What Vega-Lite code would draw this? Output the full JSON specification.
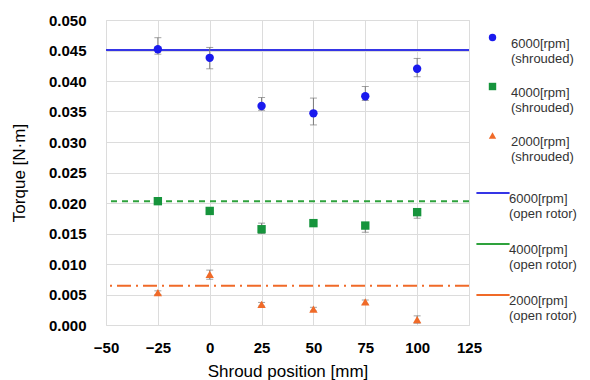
{
  "$schema": "https://vega.github.io/schema/vega-lite/v6.json",
  "width": 363,
  "height": 305,
  "autosize": "none",
  "padding": {"left": 106, "top": 20, "right": 121, "bottom": 55},
  "background": "white",
  "config": {
    "font": "Liberation Sans",
    "view": {"stroke": "#d9d9d9"},
    "axis": {"domain": false, "ticks": false, "gridColor": "#dcdcdc", "labelColor": "#000", "titleColor": "#000", "labelFontSize": 15, "labelFontWeight": "bold", "titleFontSize": 17, "titleFontWeight": "normal", "labelOverlap": false, "labelFlush": false},
    "legend": {"labelFont": "Liberation Sans", "labelFontSize": 13, "labelColor": "#333", "title": null}
  },
  "datasets": {
    "shrouded": [
      {"x": -25, "y": 0.0452, "lo": 0.0444, "hi": 0.0471, "series": "6000[rpm]|(shrouded)"},
      {"x": 0, "y": 0.0438, "lo": 0.0420, "hi": 0.0455, "series": "6000[rpm]|(shrouded)"},
      {"x": 25, "y": 0.0359, "lo": 0.0352, "hi": 0.0373, "series": "6000[rpm]|(shrouded)"},
      {"x": 50, "y": 0.0347, "lo": 0.0328, "hi": 0.0372, "series": "6000[rpm]|(shrouded)"},
      {"x": 75, "y": 0.0375, "lo": 0.0368, "hi": 0.0391, "series": "6000[rpm]|(shrouded)"},
      {"x": 100, "y": 0.0420, "lo": 0.0407, "hi": 0.0437, "series": "6000[rpm]|(shrouded)"},
      {"x": -25, "y": 0.0203, "lo": 0.0199, "hi": 0.0207, "series": "4000[rpm]|(shrouded)"},
      {"x": 0, "y": 0.0187, "lo": 0.0184, "hi": 0.0190, "series": "4000[rpm]|(shrouded)"},
      {"x": 25, "y": 0.0157, "lo": 0.0150, "hi": 0.0167, "series": "4000[rpm]|(shrouded)"},
      {"x": 50, "y": 0.0167, "lo": 0.0162, "hi": 0.0172, "series": "4000[rpm]|(shrouded)"},
      {"x": 75, "y": 0.0163, "lo": 0.0152, "hi": 0.0168, "series": "4000[rpm]|(shrouded)"},
      {"x": 100, "y": 0.0185, "lo": 0.0175, "hi": 0.0190, "series": "4000[rpm]|(shrouded)"},
      {"x": -25, "y": 0.0053, "lo": 0.0050, "hi": 0.0056, "series": "2000[rpm]|(shrouded)"},
      {"x": 0, "y": 0.0083, "lo": 0.0075, "hi": 0.0090, "series": "2000[rpm]|(shrouded)"},
      {"x": 25, "y": 0.0034, "lo": 0.0031, "hi": 0.0037, "series": "2000[rpm]|(shrouded)"},
      {"x": 50, "y": 0.0026, "lo": 0.0023, "hi": 0.0029, "series": "2000[rpm]|(shrouded)"},
      {"x": 75, "y": 0.0038, "lo": 0.0034, "hi": 0.0041, "series": "2000[rpm]|(shrouded)"},
      {"x": 100, "y": 0.0009, "lo": 0.0003, "hi": 0.0015, "series": "2000[rpm]|(shrouded)"}
    ],
    "open": [
      {"y": 0.0451, "series": "6000[rpm]|(open rotor)"},
      {"y": 0.0203, "series": "4000[rpm]|(open rotor)"},
      {"y": 0.00645, "series": "2000[rpm]|(open rotor)"}
    ]
  },
  "layer": [
    {
      "data": {"name": "open"},
      "mark": {"type": "rule", "strokeWidth": 2},
      "encoding": {
        "y": {"field": "y", "type": "quantitative", "scale": {"domain": [0, 0.05], "nice": false}, "axis": {"title": "Torque [N·m]", "values": [0, 0.005, 0.01, 0.015, 0.02, 0.025, 0.03, 0.035, 0.04, 0.045, 0.05], "format": ".3f", "labelPadding": 20, "titlePadding": 20}},
        "stroke": {"field": "series", "type": "nominal", "scale": {"domain": ["6000[rpm]|(open rotor)", "4000[rpm]|(open rotor)", "2000[rpm]|(open rotor)"], "range": ["#3535e6", "#2ea23c", "#f06a28"]},
          "legend": {"orient": "none", "legendX": 369, "legendY": 155, "symbolType": "stroke", "symbolSize": 1100, "symbolStrokeWidth": 2, "labelOffset": -2, "rowPadding": 5, "labelExpr": "split(datum.label, '|')", "labelBaseline": "top", "labelLimit": 200}},
        "strokeDash": {"field": "series", "type": "nominal", "scale": {"domain": ["6000[rpm]|(open rotor)", "4000[rpm]|(open rotor)", "2000[rpm]|(open rotor)"], "range": [[1, 0], [6, 5], [14, 5, 2, 5]]},
          "legend": null}
      }
    },
    {
      "data": {"name": "shrouded"},
      "mark": {"type": "errorbar", "ticks": {"size": 7, "color": "#7a7a7a"}, "rule": {"color": "#7a7a7a"}},
      "encoding": {
        "x": {"field": "x", "type": "quantitative"},
        "y": {"field": "lo", "type": "quantitative", "title": "Torque [N·m]", "axis": {"title": "Torque [N·m]", "values": [0, 0.005, 0.01, 0.015, 0.02, 0.025, 0.03, 0.035, 0.04, 0.045, 0.05], "format": ".3f", "labelPadding": 20, "titlePadding": 20}},
        "y2": {"field": "hi"}
      }
    },
    {
      "data": {"name": "shrouded"},
      "mark": {"type": "point", "filled": true, "opacity": 1, "size": 70, "strokeWidth": 0.8},
      "encoding": {
        "x": {"field": "x", "type": "quantitative", "scale": {"domain": [-50, 125], "nice": false}, "axis": {"title": "Shroud position [mm]", "values": [-50, -25, 0, 25, 50, 75, 100, 125], "labelPadding": 15, "titlePadding": 8}},
        "y": {"field": "y", "type": "quantitative", "title": "Torque [N·m]", "axis": {"title": "Torque [N·m]", "values": [0, 0.005, 0.01, 0.015, 0.02, 0.025, 0.03, 0.035, 0.04, 0.045, 0.05], "format": ".3f", "labelPadding": 20, "titlePadding": 20}},
        "fill": {"field": "series", "type": "nominal", "scale": {"domain": ["6000[rpm]|(shrouded)", "4000[rpm]|(shrouded)", "2000[rpm]|(shrouded)"], "range": ["#1a1aee", "#16943c", "#f06a28"]},
          "legend": {"orient": "none", "legendX": 380, "legendY": 11, "symbolSize": 55, "labelOffset": 12, "rowPadding": 14, "labelExpr": "split(datum.label, '|')", "labelBaseline": "top", "labelLimit": 200}},
        "shape": {"field": "series", "type": "nominal", "scale": {"domain": ["6000[rpm]|(shrouded)", "4000[rpm]|(shrouded)", "2000[rpm]|(shrouded)"], "range": ["circle", "square", "triangle-up"]}},
        "stroke": {"value": null}
      }
    }
  ],
  "resolve": {"scale": {"stroke": "independent"}}
}
